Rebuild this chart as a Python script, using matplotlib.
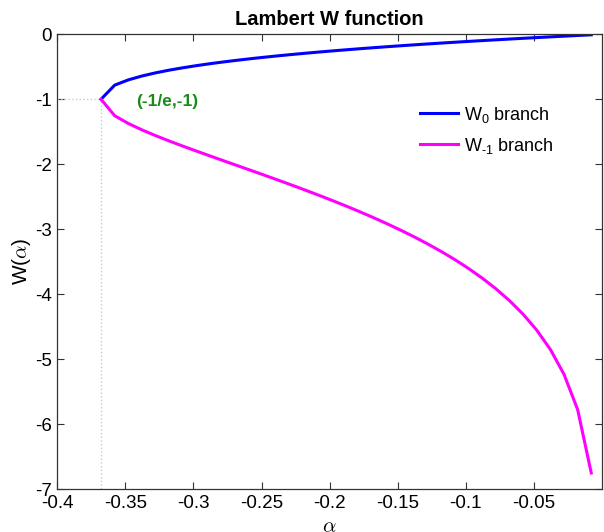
import numpy as np
import matplotlib
matplotlib.use("Agg")
import matplotlib.pyplot as plt

plt.rcParams["font.family"] = ["Liberation Sans", "DejaVu Sans"]
plt.rcParams["mathtext.fontset"] = "custom"
plt.rcParams["mathtext.rm"] = "Liberation Sans"
plt.rcParams["mathtext.it"] = "Liberation Sans:italic"
plt.rcParams["axes.unicode_minus"] = False

# ── data: alpha sampled from -1/e in steps of 0.01 ────────────────────────────
alpha = [-0.36788, -0.35788, -0.34788, -0.33788, -0.32788, -0.31788, -0.30788,
         -0.29788, -0.28788, -0.27788, -0.26788, -0.25788, -0.24788, -0.23788,
         -0.22788, -0.21788, -0.20788, -0.19788, -0.18788, -0.17788, -0.16788,
         -0.15788, -0.14788, -0.13788, -0.12788, -0.11788, -0.10788, -0.09788,
         -0.08788, -0.07788, -0.06788, -0.05788, -0.04788, -0.03788, -0.02788,
         -0.01788, -0.00788]

w0 = [-1.0, -0.7830, -0.7018, -0.6422, -0.5937, -0.5521, -0.5156, -0.4827,
      -0.4527, -0.4251, -0.3994, -0.3753, -0.3527, -0.3313, -0.3110, -0.2917,
      -0.2732, -0.2555, -0.2385, -0.2221, -0.2064, -0.1911, -0.1764, -0.1622,
      -0.1483, -0.1349, -0.1219, -0.1092, -0.0968, -0.0848, -0.0730, -0.0616,
      -0.0503, -0.0394, -0.0287, -0.0182, -0.0080]

wm1 = [-1.0, -1.2532, -1.3725, -1.4711, -1.5594, -1.6420, -1.7209, -1.7974,
       -1.8724, -1.9467, -2.0207, -2.0946, -2.1692, -2.2445, -2.3208, -2.3987,
       -2.4784, -2.5601, -2.6442, -2.7315, -2.8220, -2.9163, -3.0151, -3.1189,
       -3.2289, -3.3458, -3.4712, -3.6068, -3.7551, -3.9181, -4.1014, -4.3105,
       -4.5553, -4.8530, -5.2353, -5.7780, -6.7536]

branch_pt = (-0.36788, -1.0)
x_ticks = [-0.4, -0.35, -0.3, -0.25, -0.2, -0.15, -0.1, -0.05]
y_ticks = [0, -1, -2, -3, -4, -5, -6, -7]

# ── figure ────────────────────────────────────────────────────────────────────
fig = plt.figure(figsize=(6.04, 5.32), dpi=100)
ax = fig.add_axes([57.3 / 604, 1 - 489 / 532, (602 - 57.3) / 604, (489 - 34.3) / 532])

# dotted guides to the branch point
ax.plot([-0.4, branch_pt[0]], [branch_pt[1], branch_pt[1]], ":", color="#b8d4d0", lw=1)
ax.plot([branch_pt[0], branch_pt[0]], [-7, branch_pt[1]], ":", color="#b8d4d0", lw=1)

ax.plot(alpha, w0, color="#0000ff", lw=2.2, label="W$_0$ branch")
ax.plot(alpha, wm1, color="#ff00ff", lw=2.2, label=r"W$_{\text{-}1}$ branch")

ax.text(-0.342, -1.03, "(-1/e,-1)", color="#1a8a1a", fontsize=12.5,
        fontweight="bold", ha="left", va="center")

ax.set_xlim(-0.4, 0)
ax.set_ylim(-7, 0)
ax.set_xticks(x_ticks)
ax.set_xticklabels([f"{t:g}" for t in x_ticks])
ax.set_yticks(y_ticks)
ax.set_yticklabels([f"{t:g}" for t in y_ticks])
ax.tick_params(direction="in", length=5, width=0.8, top=True, right=True,
               labelsize=13.5, color="#333333", pad=4)
for s in ax.spines.values():
    s.set_color("#333333")
    s.set_linewidth(0.9)

ax.set_title("Lambert W function", fontsize=14.5, fontweight="bold", pad=7)
ax.set_xlabel(r"$\alpha$", fontsize=15, math_fontfamily="cm", labelpad=4)
ax.set_ylabel(r"W($\alpha$)", fontsize=15, math_fontfamily="cm", labelpad=1)

ax.legend(loc="upper left", bbox_to_anchor=(0.666, 0.845), frameon=False,
          fontsize=13, handlelength=2.1, handletextpad=0.35, borderpad=0,
          borderaxespad=0, labelspacing=0.6)

plt.savefig("out.png", dpi=100)
